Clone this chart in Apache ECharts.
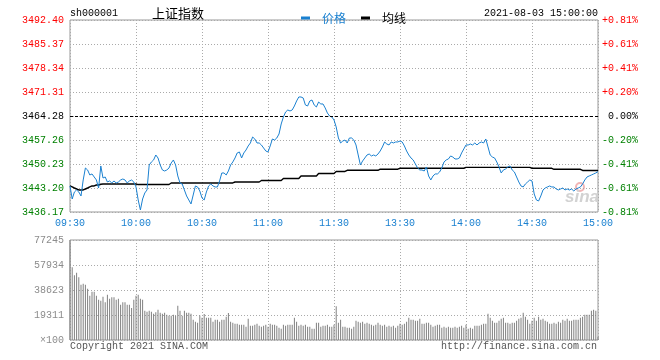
<!DOCTYPE html>
<html>
<head>
<meta charset="utf-8">
<script src="https://cdn.jsdelivr.net/npm/echarts@6/dist/echarts.min.js"></script>
<style>
html,body{margin:0;padding:0;background:#fff;}
#c{width:660px;height:360px;}
</style>
</head>
<body>
<div id="c"></div>
<script>
// ---- data ----
const prevClose = 3464.28;
const priceStep = 7.03;
const leftTicks = ['3436.17','3443.20','3450.23','3457.26','3464.28','3471.31','3478.34','3485.37','3492.40'];
const rightTicks = ['-0.81%','-0.61%','-0.41%','-0.20%','0.00%','+0.20%','+0.41%','+0.61%','+0.81%'];
const volTicks = ['\u00d7100','19311','38623','57934','77245'];
const volMax = 77245;
const timeLabels = ['09:30','10:00','10:30','11:00','11:30','13:30','14:00','14:30','15:00'];

const price = [
3443.78,3439.97,3442.02,3442.61,3442.02,3440.85,3445.54,3449.05,3448.47,3447.00,
3447.30,3446.42,3445.54,3443.19,3449.64,3446.12,3446.42,3444.95,3445.25,3444.66,
3445.25,3444.66,3444.95,3445.54,3445.83,3445.54,3444.66,3445.25,3445.54,3444.95,
3443.49,3439.68,3436.75,3439.97,3441.73,3442.61,3449.93,3450.81,3451.40,3452.86,
3451.98,3449.93,3448.47,3448.17,3448.47,3449.05,3450.52,3451.40,3449.93,3446.71,
3444.66,3444.37,3442.61,3440.85,3439.68,3438.51,3441.14,3443.78,3443.49,3442.32,
3440.27,3439.68,3442.02,3443.78,3444.37,3443.78,3443.49,3443.49,3445.25,3447.59,
3447.59,3447.00,3448.17,3449.93,3450.81,3451.98,3453.45,3453.74,3451.98,3453.45,
3454.32,3455.50,3456.38,3458.13,3457.55,3456.38,3456.38,3455.79,3454.91,3454.03,
3453.74,3455.50,3457.55,3457.25,3457.84,3459.01,3461.94,3463.99,3465.46,3466.04,
3465.75,3466.04,3467.21,3468.68,3469.85,3469.85,3469.56,3467.51,3467.21,3468.68,
3468.97,3467.51,3466.92,3468.38,3467.80,3467.80,3466.63,3465.16,3464.28,3463.99,
3463.11,3461.06,3457.84,3456.38,3456.96,3457.25,3456.38,3457.84,3457.84,3457.25,
3455.79,3452.86,3449.93,3451.10,3451.98,3452.86,3453.15,3452.57,3452.86,3452.57,
3453.15,3454.03,3455.20,3456.67,3456.08,3455.79,3456.67,3456.38,3456.67,3456.67,
3456.96,3456.67,3455.50,3454.03,3452.86,3451.98,3451.40,3450.22,3449.05,3448.47,
3448.47,3448.17,3449.35,3446.71,3445.54,3446.71,3447.30,3447.30,3447.88,3449.05,
3450.81,3451.40,3451.69,3452.57,3452.27,3451.69,3451.69,3451.98,3453.45,3454.62,
3455.79,3455.79,3456.08,3455.79,3456.38,3455.79,3456.38,3456.67,3456.38,3457.55,
3455.20,3452.86,3452.27,3451.98,3450.81,3449.35,3447.59,3448.47,3448.76,3449.35,
3449.64,3448.47,3447.88,3446.42,3444.95,3443.78,3443.49,3444.37,3444.95,3445.54,
3445.25,3441.44,3439.68,3439.39,3440.85,3442.61,3443.19,3443.49,3443.78,3443.49,
3443.49,3442.90,3442.61,3442.90,3443.19,3442.61,3442.90,3442.61,3442.90,3442.32,
3442.90,3443.19,3443.49,3444.37,3445.54,3446.42,3446.71,3447.00,3447.30,3447.59,
3447.99
];

const avg = [
3443.78,3443.49,3443.19,3442.90,3442.61,3442.61,3442.61,3442.90,3443.19,3443.49,
3443.78,3443.78,3444.07,3444.07,3444.28,3444.37,3444.37,3444.37,3444.37,3444.37,
3444.37,3444.37,3444.37,3444.37,3444.37,3444.37,3444.37,3444.37,3444.37,3444.37,
3444.37,3444.20,3444.20,3444.20,3444.20,3444.20,3444.20,3444.20,3444.20,3444.20,
3444.20,3444.20,3444.20,3444.20,3444.20,3444.20,3444.66,3444.66,3444.66,3444.66,
3444.66,3444.66,3444.66,3444.66,3444.66,3444.66,3444.66,3444.66,3444.66,3444.66,
3444.66,3444.66,3444.66,3444.66,3444.66,3444.66,3444.66,3444.66,3444.66,3444.66,
3444.66,3444.66,3444.66,3444.66,3444.66,3444.95,3444.95,3444.95,3444.95,3444.95,
3444.95,3444.95,3444.95,3444.95,3444.95,3444.95,3444.95,3445.39,3445.39,3445.39,
3445.39,3445.39,3445.39,3445.39,3445.39,3445.39,3445.39,3445.98,3445.98,3445.98,
3445.98,3445.98,3445.98,3445.98,3445.98,3446.71,3446.71,3446.71,3446.71,3446.71,
3446.71,3446.71,3446.71,3447.44,3447.44,3447.44,3447.44,3447.44,3447.44,3447.44,
3447.44,3448.03,3448.03,3448.03,3448.03,3448.03,3448.38,3448.38,3448.38,3448.38,
3448.38,3448.38,3448.38,3448.38,3448.38,3448.38,3448.38,3448.38,3448.38,3448.38,
3448.38,3448.70,3448.70,3448.70,3448.70,3448.70,3448.70,3448.70,3448.70,3448.70,
3448.97,3448.97,3448.97,3448.97,3448.97,3448.97,3448.97,3448.97,3448.97,3448.97,
3448.97,3448.97,3448.97,3448.97,3448.97,3448.97,3448.97,3448.97,3448.97,3448.97,
3448.97,3448.97,3448.97,3448.97,3448.97,3448.97,3448.97,3448.97,3448.97,3448.97,
3449.23,3449.23,3449.23,3449.23,3449.23,3449.23,3449.23,3449.23,3449.23,3449.23,
3449.23,3449.23,3449.23,3449.23,3449.23,3449.23,3449.23,3449.23,3449.23,3449.23,
3449.23,3449.23,3449.23,3449.23,3449.23,3449.23,3449.23,3449.23,3449.23,3449.23,
3448.97,3448.97,3448.97,3448.97,3448.97,3448.97,3448.97,3448.97,3448.97,3448.97,
3448.67,3448.67,3448.67,3448.67,3448.67,3448.67,3448.67,3448.67,3448.67,3448.67,
3448.67,3448.67,3448.67,3448.32,3448.32,3448.32,3448.32,3448.32,3448.32,3448.32,
3448.32
];

const volume = [
77245,56130,49950,52010,48410,42740,43510,42740,39650,34240,
37330,37330,34240,31150,30380,33470,29100,35020,31930,32960,
32960,31150,31930,27290,29100,29100,27290,27290,24720,31150,
34240,35020,31930,31150,22660,21890,22660,21890,20340,21370,
23430,21120,20340,21120,19570,18800,18800,19570,18800,26520,
22660,18800,22660,21120,21120,20340,15710,14160,13390,19000,
17250,20090,17250,17250,17250,14160,15710,15710,14160,15710,
15710,18030,20860,14160,13390,12620,12620,11850,11850,11850,
10300,16480,11070,11070,11850,12620,11070,10300,11070,11850,
10300,12620,11850,11850,11070,9530,8760,11850,11070,11850,
11850,11850,17250,14160,11070,11850,11070,11850,10300,10300,
8760,8760,13390,13390,10300,11070,11070,11850,10300,10300,
11850,26010,13390,15710,10300,10300,9530,9530,8760,10300,
14940,14160,13390,14160,12620,13390,12620,11850,11070,11850,
13390,11850,11070,11850,10300,11070,10300,11070,9530,11070,
12620,11850,12620,14160,17250,15710,15710,14940,14940,16480,
12620,12620,13390,13390,11850,10300,11070,11850,11850,9530,
10300,9530,10300,9530,9530,10300,9530,10300,11070,9530,
11850,8760,9530,8760,11070,11070,11070,11850,12620,12620,
20340,17250,14940,13390,13390,14940,16480,17250,13390,13390,
12620,13390,13390,14940,16480,17250,21120,18030,15710,12620,
14940,17250,14940,18030,15710,16480,14940,14160,12620,12620,
13390,12620,14160,13390,15710,14940,16480,14940,14940,15710,
15710,15710,17250,18030,19570,19570,19570,22660,23430,22660,
2580
];

// category labels: one per minute (09:30..11:30, 13:01..15:00)
const minutes = [];
for (let m = 9 * 60 + 30; m <= 11 * 60 + 30; m++) minutes.push(m);
for (let m = 13 * 60 + 1; m <= 15 * 60; m++) minutes.push(m);
const categories = minutes.map(m => String(Math.floor(m / 60)).padStart(2, '0') + ':' + String(m % 60).padStart(2, '0'));

// ---- chart ----
const MONO = 'Liberation Mono';
const CJK = 'Noto Sans CJK SC';
const BLUE = '#1a80d0';
const chart = echarts.init(document.getElementById('c'), null, {renderer: 'canvas'});

const tickIdx = v => Math.round(v / priceStep) + 4;
const cls = k => (k > 4 ? 'r' : (k < 4 ? 'g' : 'k'));
const rich = {
  r: {color: '#ff0000', fontFamily: MONO, fontSize: 10},
  g: {color: '#008000', fontFamily: MONO, fontSize: 10},
  k: {color: '#000000', fontFamily: MONO, fontSize: 10}
};
const labelAt = (idx) => idx % 30 === 0;
const timeLabelFor = (idx) => timeLabels[idx / 30];

const option = {
  animation: false,
  textStyle: {fontFamily: MONO},
  grid: [
    {left: 70, top: 20, width: 528, height: 192, show: true, borderColor: '#999', borderWidth: 1, backgroundColor: 'transparent', outerBoundsMode: 'none', containLabel: false},
    {left: 70, top: 240, width: 528, height: 100, show: true, borderColor: '#999', borderWidth: 1, backgroundColor: 'transparent', outerBoundsMode: 'none', containLabel: false}
  ],
  legend: {
    left: 296, top: 7, itemWidth: 9, itemHeight: 3, itemGap: 15, icon: 'rect', selectedMode: false,
    textStyle: {fontFamily: CJK, fontSize: 12, padding: [0, 0, 0, 7]},
    data: [{name: '价格', textStyle: {color: BLUE}}, {name: '均线', textStyle: {color: '#000'}}]
  },
  xAxis: [
    {
      type: 'category', gridIndex: 0, data: categories, boundaryGap: false,
      axisLine: {show: false}, axisTick: {show: false},
      axisLabel: {interval: (i) => labelAt(i), formatter: (v, i) => timeLabelFor(i), color: BLUE, fontFamily: MONO, fontSize: 10, margin: 6, showMinLabel: true, showMaxLabel: true},
      splitLine: {show: true, interval: (i) => labelAt(i), lineStyle: {color: '#aaa', type: [1, 2], width: 1}}
    },
    {
      type: 'category', gridIndex: 1, data: categories, boundaryGap: false,
      axisLine: {show: false}, axisTick: {show: false}, axisLabel: {show: false},
      splitLine: {show: true, interval: (i) => labelAt(i), lineStyle: {color: '#aaa', type: [1, 2], width: 1}}
    }
  ],
  yAxis: [
    {
      type: 'value', gridIndex: 0, position: 'left', min: -4 * priceStep, max: 4 * priceStep, interval: priceStep,
      axisLine: {show: false}, axisTick: {show: false},
      splitLine: {show: true, lineStyle: {color: '#aaa', type: [1, 2], width: 1}},
      axisLabel: {margin: 6, showMinLabel: true, showMaxLabel: true, rich: rich,
        formatter: (v) => { const k = tickIdx(v); return '{' + cls(k) + '|' + leftTicks[k] + '}'; }}
    },
    {
      type: 'value', gridIndex: 0, position: 'right', min: -4 * priceStep, max: 4 * priceStep, interval: priceStep,
      axisLine: {show: false}, axisTick: {show: false}, splitLine: {show: false},
      axisLabel: {margin: 40, align: 'right', showMinLabel: true, showMaxLabel: true, rich: rich,
        formatter: (v) => { const k = tickIdx(v); return '{' + cls(k) + '|' + rightTicks[k] + '}'; }}
    },
    {
      type: 'value', gridIndex: 1, position: 'left', min: 0, max: volMax, interval: volMax / 4,
      axisLine: {show: false}, axisTick: {show: false},
      splitLine: {show: true, lineStyle: {color: '#aaa', type: [1, 2], width: 1}},
      axisLabel: {margin: 6, color: '#8c8c8c', fontFamily: MONO, fontSize: 10, showMinLabel: true, showMaxLabel: true,
        formatter: (v) => volTicks[Math.round(v / (volMax / 4))]}
    }
  ],
  series: [
    {
      name: '均线', type: 'line', xAxisIndex: 0, yAxisIndex: 0, showSymbol: false, symbol: 'none',
      color: '#000', itemStyle: {color: '#000'}, lineStyle: {color: '#000', width: 1.4},
      data: avg.map(p => +(p - prevClose).toFixed(2)), z: 3
    },
    {
      name: '价格', type: 'line', xAxisIndex: 0, yAxisIndex: 0, showSymbol: false, symbol: 'none',
      color: BLUE, itemStyle: {color: BLUE}, lineStyle: {color: BLUE, width: 1},
      data: price.map(p => +(p - prevClose).toFixed(2)), z: 4,
      markLine: {silent: true, symbol: ['none', 'none'], label: {show: false}, animation: false,
        lineStyle: {color: '#000', type: [3, 2], width: 1}, data: [{yAxis: 0}]}
    },
    {
      name: 'vol', type: 'bar', xAxisIndex: 1, yAxisIndex: 2, barWidth: 1, clip: false,
      itemStyle: {color: '#808080'}, data: volume
    }
  ],
  graphic: [
    {type: 'text', silent: true, style: {x: 70, y: 13.5, text: 'sh000001', font: '10px "' + MONO + '"', fill: '#000', verticalAlign: 'middle'}},
    {type: 'text', silent: true, style: {x: 152, y: 13.5, text: '上证指数', font: '13px "' + CJK + '"', fill: '#000', verticalAlign: 'middle'}},
    {type: 'text', silent: true, style: {x: 598, y: 13.5, text: '2021-08-03 15:00:00', font: '10px "' + MONO + '"', fill: '#000', align: 'right', verticalAlign: 'middle'}},
    {type: 'text', silent: true, style: {x: 70, y: 346, text: 'Copyright 2021 SINA.COM', font: '10px "' + MONO + '"', fill: '#555', verticalAlign: 'middle'}},
    {type: 'text', silent: true, style: {x: 597, y: 346, text: 'http://finance.sina.com.cn', font: '10px "' + MONO + '"', fill: '#555', align: 'right', verticalAlign: 'middle'}},
    {type: 'circle', silent: true, shape: {cx: 580, cy: 187, r: 4}, style: {fill: 'none', stroke: '#f2b5b5', lineWidth: 2}},
    {type: 'text', silent: true, style: {x: 565, y: 197, text: 'sina', font: 'italic bold 17px "Liberation Sans"', fill: '#d2d2d2', verticalAlign: 'middle'}}
  ]
};
chart.setOption(option);
</script>
</body>
</html>
